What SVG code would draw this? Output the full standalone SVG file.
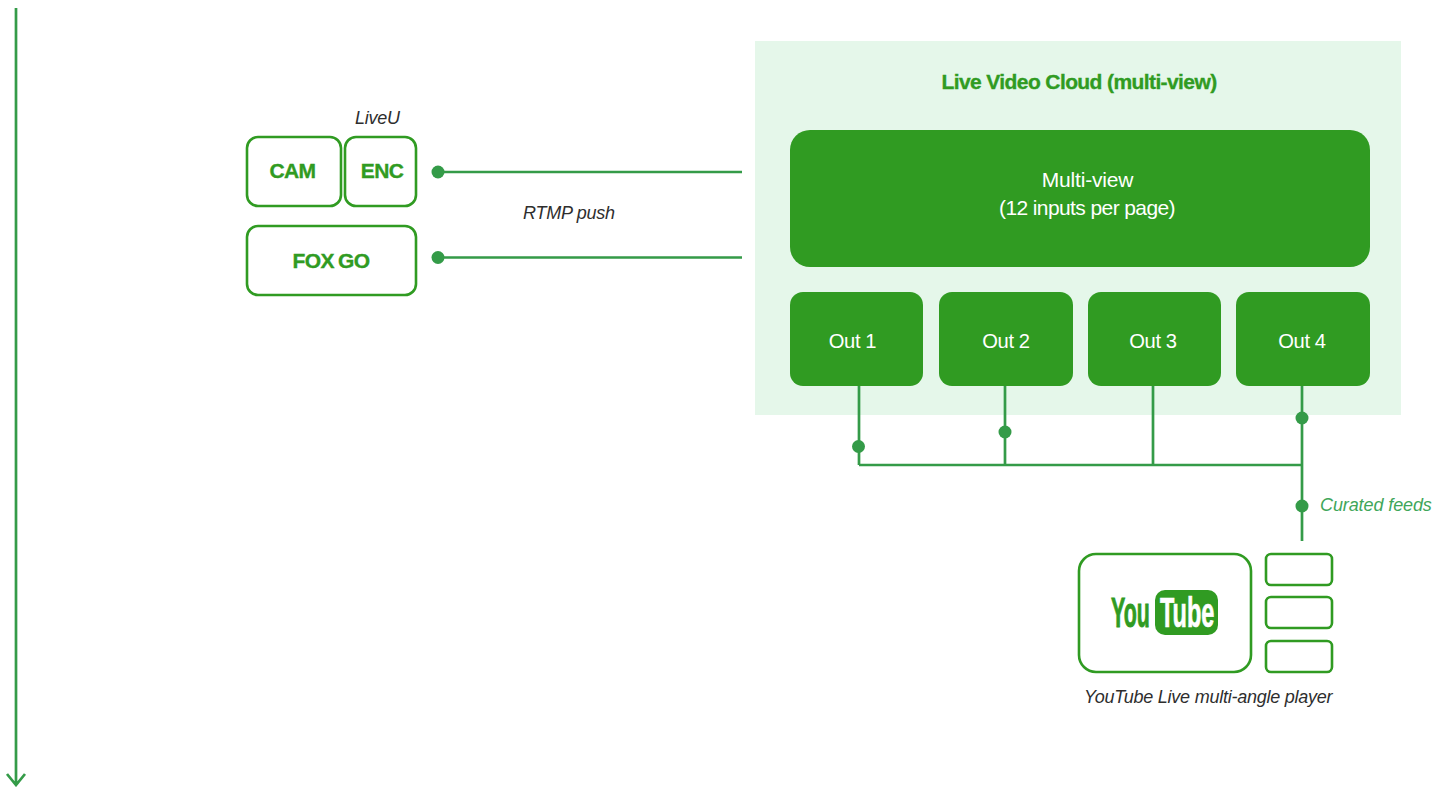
<svg xmlns="http://www.w3.org/2000/svg" width="1445" height="787" viewBox="0 0 1445 787">
<style>
text{font-family:"Liberation Sans",Arial,sans-serif;font-size:18px}
.b{font-weight:700;font-size:21px;fill:#309b22;stroke:#309b22;stroke-width:.35;text-anchor:middle;letter-spacing:-.6px;word-spacing:-1px}
.i{font-style:italic;fill:#2e2e2e;letter-spacing:-.25px}
.w{fill:#fff;text-anchor:middle;font-size:20.200px;letter-spacing:-.4px}
.o{fill:#fff;stroke:#309b22;stroke-width:2.6}
.f{fill:#309b22}
.l{fill:none;stroke:#349b48;stroke-width:2.7}
.d{fill:#349b48}
.y{font-weight:700;font-size:42px}
</style>
<g id="timeline"><path class="l" d="M16 8V784M7 774L16 785L25 774"/></g>
<g id="cloud"><rect x="755" y="41" width="646" height="374" fill="#e5f7ea"/><text class="b" x="1079" y="89" style="word-spacing:0">Live Video Cloud (multi-view)</text></g>
<g id="multiview"><rect class="f" x="790" y="130" width="580" height="137" rx="20"/><text class="w" x="1087.500" y="187" style="font-size:21px;letter-spacing:-.2px">Multi-view</text><text class="w" x="1087" y="215" style="font-size:21px;letter-spacing:-.6px">(12 inputs per page)</text></g>
<g id="out1"><rect class="f" x="790" y="292" width="133" height="94" rx="13"/><text class="w" x="852.500" y="348">Out 1</text></g>
<g id="out2"><rect class="f" x="939" y="292" width="134" height="94" rx="13"/><text class="w" x="1006" y="348">Out 2</text></g>
<g id="out3"><rect class="f" x="1088" y="292" width="133" height="94" rx="13"/><text class="w" x="1153" y="348">Out 3</text></g>
<g id="out4"><rect class="f" x="1236" y="292" width="134" height="94" rx="13"/><text class="w" x="1302" y="348">Out 4</text></g>
<g id="cam"><rect class="o" x="247" y="137" width="94" height="69" rx="11"/><text class="b" x="292.500" y="178">CAM</text></g>
<g id="enc"><rect class="o" x="345" y="137" width="71" height="69" rx="11"/><text class="b" x="382" y="178">ENC</text></g>
<g id="foxgo"><rect class="o" x="247" y="226" width="169" height="69" rx="11"/><text class="b" x="331" y="268">FOX GO</text></g>
<g id="youtube">
<rect class="o" x="1079" y="554" width="172" height="118" rx="17"/>
<text class="y f" stroke="#309b22" stroke-width=".9" transform="translate(1111 627) scale(.51 1)">You</text>
<rect class="f" x="1155" y="590" width="63" height="45" rx="10"/>
<text class="y" fill="#fff" stroke="#fff" stroke-width=".7" transform="translate(1160 627) scale(.56 1)">Tube</text>
</g>
<g id="thumb1"><rect class="o" x="1266" y="554" width="66" height="31" rx="5"/></g>
<g id="thumb2"><rect class="o" x="1266" y="597" width="66" height="31" rx="5"/></g>
<g id="thumb3"><rect class="o" x="1266" y="641" width="66" height="31" rx="5"/></g>
<g id="connectors">
<path class="l" d="M438 172H742M438 257.500H742M859 386V465M1005 386V465M1153 386V465M1302 386V541M859 465H1302"/>
<circle class="d" cx="438" cy="172" r="6.500"/><circle class="d" cx="438" cy="257.500" r="6.500"/>
<circle class="d" cx="858.500" cy="446.500" r="6.500"/><circle class="d" cx="1005" cy="432" r="6.500"/><circle class="d" cx="1302" cy="418" r="6.500"/><circle class="d" cx="1302" cy="506" r="6.500"/>
</g>
<g id="labels">
<text class="i" x="355" y="124">LiveU</text>
<text class="i" x="523" y="219">RTMP push</text>
<text class="i" x="1320" y="511" style="fill:#3fa65a;letter-spacing:-.1px">Curated feeds</text>
<text class="i" x="1084" y="703" style="letter-spacing:-.24px">YouTube Live multi-angle player</text>
</g>
</svg>
